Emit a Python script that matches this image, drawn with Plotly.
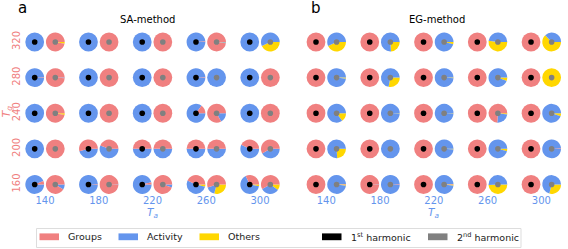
import plotly.graph_objects as go

W, H = 568, 249

# ---------------- data ----------------
Ta = [140, 180, 220, 260, 300]          # x categories (columns)
Tg = [160, 200, 240, 280, 320]          # y categories (rows)
components = ["Groups", "Activity", "Others"]
comp_colors = ["#F08080", "#6495ED", "#FFD700"]
harmonics = ["1<sup>st</sup> harmonic", "2<sup>nd</sup> harmonic"]
harm_colors = ["black", "gray"]
methods = ["SA-method", "EG-method"]
panel_letters = ["a", "b"]

# shares [Groups, Activity, Others]; rows follow Tg (160..320), columns follow Ta (140..300)
sa_h1 = [
    [[0.06, 0.94, 0], [0.01, 0.99, 0], [0.04, 0.96, 0], [0.43, 0.53, 0.04], [0.32, 0.65, 0.03]],
    [[0, 1, 0], [0.54, 0.46, 0], [0.50, 0.50, 0], [0.50, 0.50, 0], [0.43, 0.57, 0]],
    [[0, 1, 0], [0, 1, 0], [0, 1, 0], [0.15, 0.85, 0], [0, 1, 0]],
    [[0.01, 0.99, 0], [0, 1, 0], [0, 1, 0], [0.01, 0.99, 0], [0, 1, 0]],
    [[0, 1, 0], [0, 1, 0], [0, 1, 0], [0.01, 0.99, 0], [0, 1, 0]],
]
sa_h2 = [
    [[0.91, 0.09, 0], [0.99, 0.01, 0], [0.95, 0.05, 0], [0.55, 0.16, 0.29], [0.58, 0.32, 0.10]],
    [[1, 0, 0], [0.44, 0.56, 0], [0.50, 0.50, 0], [0.50, 0.50, 0], [0.58, 0.42, 0]],
    [[0.97, 0, 0.03], [1, 0, 0], [1, 0, 0], [0.83, 0.17, 0], [1, 0, 0]],
    [[0.99, 0.01, 0], [1, 0, 0], [1, 0, 0], [0, 1, 0], [1, 0, 0]],
    [[0.97, 0, 0.03], [1, 0, 0], [1, 0, 0], [0.98, 0.01, 0.01], [0, 0.57, 0.43]],
]
eg_h1 = [
    [[1, 0, 0], [0.99, 0.01, 0], [1, 0, 0], [1, 0, 0], [1, 0, 0]],
    [[1, 0, 0], [1, 0, 0], [1, 0, 0], [1, 0, 0], [1, 0, 0]],
    [[1, 0, 0], [1, 0, 0], [1, 0, 0], [1, 0, 0], [1, 0, 0]],
    [[1, 0, 0], [1, 0, 0], [1, 0, 0], [1, 0, 0], [1, 0, 0]],
    [[1, 0, 0], [1, 0, 0], [1, 0, 0], [1, 0, 0], [1, 0, 0]],
]
eg_h2 = [
    [[0.01, 0.97, 0.02], [0.01, 0.99, 0], [0.01, 0.97, 0.02], [0, 0.51, 0.49], [0, 0.71, 0.29]],
    [[0, 0.76, 0.24], [0, 1, 0], [0, 0.99, 0.01], [0, 0.96, 0.04], [0.01, 0.99, 0]],
    [[0, 0.85, 0.15], [0, 0.99, 0.01], [0, 0.99, 0.01], [0.74, 0.24, 0.02], [0, 0.95, 0.05]],
    [[0, 0.98, 0.02], [0, 0.72, 0.28], [0, 0.99, 0.01], [0, 0.94, 0.06], [0, 0, 1]],
    [[0, 0.57, 0.43], [0, 0.76, 0.24], [0, 0.96, 0.04], [0, 0.48, 0.52], [0, 0.37, 0.63]],
]
shares = [[sa_h1, sa_h2], [eg_h1, eg_h2]]

# ---------------- layout constants (pixels) ----------------
FONT = "DejaVu Sans"
BLUE_TXT = "#6495ED"
RED_TXT = "#F08080"
X_RANGE = [124, 316]
Y_RANGE = [151.5, 335]
PX_PER_X = 1.344
PX_PER_Y = 0.8906
PANEL_X140 = [45.0, 326.3]   # pixel x of Ta=140 in each panel
PY_320 = 42.0                # pixel y of Tg=320
PIE_D = 18.8                 # pie diameter px
PIE_OFF = 10.3               # half distance between the two pies of a cell, px
DOT = 5.6

def x_dom(p):
    x0 = PANEL_X140[p] + (X_RANGE[0] - 140) * PX_PER_X
    x1 = PANEL_X140[p] + (X_RANGE[1] - 140) * PX_PER_X
    return [x0 / W, x1 / W]

def y_dom():
    y_top = PY_320 - (Y_RANGE[1] - 320) * PX_PER_Y
    y_bot = PY_320 + (320 - Y_RANGE[0]) * PX_PER_Y
    return [1 - y_bot / H, 1 - y_top / H]

def to_px(p, xv, yv):
    d = x_dom(p)
    px = (d[0] + (xv - X_RANGE[0]) / (X_RANGE[1] - X_RANGE[0]) * (d[1] - d[0])) * W
    dy = y_dom()
    py = (1 - (dy[0] + (yv - Y_RANGE[0]) / (Y_RANGE[1] - Y_RANGE[0]) * (dy[1] - dy[0]))) * H
    return px, py

fig = go.Figure()
shapes = []
off_units = PIE_OFF / PX_PER_X

for p in range(2):
    xr = "x" if p == 0 else "x2"
    yr = "y" if p == 0 else "y2"
    for h in range(2):
        sign = -1 if h == 0 else 1
        for i, tg in enumerate(Tg):
            for j, ta in enumerate(Ta):
                v = shares[p][h][i][j]
                xc = ta + sign * off_units
                cx, cy = to_px(p, xc, tg)
                fig.add_trace(go.Pie(
                    values=v[::-1], labels=components[::-1],
                    marker=dict(colors=comp_colors[::-1], line=dict(width=0)),
                    sort=False, direction="clockwise", rotation=90,
                    textinfo="none", hoverinfo="label+percent", showlegend=False,
                    domain=dict(x=[(cx - PIE_D / 2) / W, (cx + PIE_D / 2) / W],
                                y=[1 - (cy + PIE_D / 2) / H, 1 - (cy - PIE_D / 2) / H]),
                ))
                shapes.append(dict(
                    type="circle", xref=xr, yref=yr,
                    xsizemode="pixel", ysizemode="pixel",
                    xanchor=xc, yanchor=tg,
                    x0=-DOT / 2, x1=DOT / 2, y0=-DOT / 2, y1=DOT / 2,
                    fillcolor=harm_colors[h], line=dict(width=0), layer="above",
                ))

axis_common = dict(showgrid=False, zeroline=False, showline=False, ticks="",
                   fixedrange=True)
layout = dict(
    width=W, height=H, margin=dict(l=0, r=0, t=0, b=0),
    paper_bgcolor="white", plot_bgcolor="white",
    font=dict(family=FONT, size=10, color="black"),
    xaxis=dict(domain=x_dom(0), range=X_RANGE, anchor="y", tickvals=Ta,
               ticktext=[str(t) for t in Ta], tickfont=dict(color=BLUE_TXT, size=10),
               ticklabelstandoff=1, **axis_common),
    yaxis=dict(domain=y_dom(), range=Y_RANGE, anchor="x", tickvals=Tg,
               ticktext=[str(t) for t in Tg], tickangle=-90,
               tickfont=dict(color=RED_TXT, size=10), ticklabelstandoff=0, **axis_common),
    xaxis2=dict(domain=x_dom(1), range=X_RANGE, anchor="y2", tickvals=Ta,
                ticktext=[str(t) for t in Ta], tickfont=dict(color=BLUE_TXT, size=10),
                ticklabelstandoff=1, **axis_common),
    yaxis2=dict(domain=y_dom(), range=Y_RANGE, anchor="x2", showticklabels=False,
                **axis_common),
)
fig.update_layout(**layout)

annotations = []
title_x = [147.5, 437.0]
letter_x = [22.5, 315.8]
for p in range(2):
    xr = "x" if p == 0 else "x2"
    annotations.append(dict(text=methods[p], x=title_x[p] / W, y=1 - 19 / H,
                            xref="paper", yref="paper", showarrow=False,
                            font=dict(size=10, family=FONT), xanchor="center", yanchor="middle"))
    annotations.append(dict(text=panel_letters[p], x=letter_x[p] / W, y=1 - 8.5 / H,
                            xref="paper", yref="paper", showarrow=False,
                            font=dict(size=15, family=FONT), xanchor="center", yanchor="middle"))
    annotations.append(dict(text="<i>T</i><sub><i>a</i></sub>", x=220, xref=xr,
                            y=1 - 212.5 / H, yref="paper", showarrow=False,
                            font=dict(size=10.5, color=BLUE_TXT, family=FONT),
                            xanchor="center", yanchor="middle"))
annotations.append(dict(text="<i>T</i><sub><i>g</i></sub>", x=7 / W, xref="paper",
                        y=242, yref="y", showarrow=False, textangle=-90,
                        font=dict(size=11, color=RED_TXT, family=FONT),
                        xanchor="center", yanchor="middle"))

# legend (drawn manually)
LEG_BOX = [36.5, 228.5, 521, 247.5]
shapes.append(dict(type="rect", xref="paper", yref="paper",
                   x0=LEG_BOX[0] / W, x1=LEG_BOX[2] / W,
                   y0=1 - LEG_BOX[3] / H, y1=1 - LEG_BOX[1] / H,
                   line=dict(color="#dddddd", width=1), fillcolor="white", layer="below"))
leg_labels = components + harmonics
leg_colors = comp_colors + harm_colors
leg_patch_x = [39.5, 118.5, 199.5, 322.0, 428.0]
LEG_Y = 236.8
for k, lab in enumerate(leg_labels):
    x0 = leg_patch_x[k]
    shapes.append(dict(type="rect", xref="paper", yref="paper",
                       x0=x0 / W, x1=(x0 + 19.5) / W,
                       y0=1 - (LEG_Y + 3.4) / H, y1=1 - (LEG_Y - 3.4) / H,
                       fillcolor=leg_colors[k], line=dict(width=0)))
    annotations.append(dict(text=lab, x=(x0 + 26.5) / W, y=1 - LEG_Y / H,
                            xref="paper", yref="paper", showarrow=False,
                            xanchor="left", yanchor="middle",
                            font=dict(size=9.5, family=FONT, color="#222222")))

fig.update_layout(shapes=shapes, annotations=annotations)
fig.write_html("out.html", config={"displayModeBar": False},
               post_script="document.body.style.margin='0';document.body.style.overflow='hidden';")
